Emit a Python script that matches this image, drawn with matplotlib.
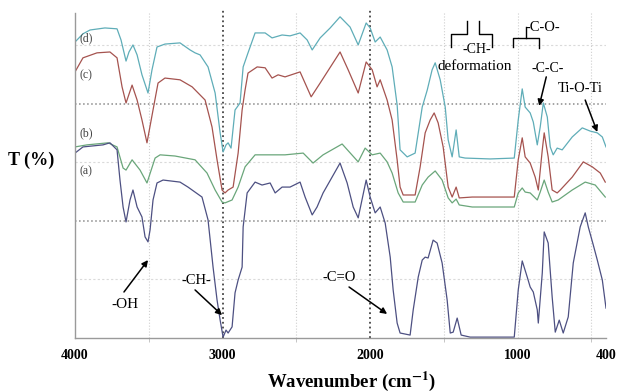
import matplotlib
matplotlib.use('Agg')
import matplotlib.pyplot as plt

# ── spectra (wavenumber cm-1, T in grid units: 20 per gridline) ──
wn_d = [4000, 3946, 3898, 3797, 3715, 3688, 3654, 3634, 3607, 3579, 3546, 3505, 3478, 3444,
        3390, 3288, 3220, 3186, 3152, 3098, 3050, 3016, 2996, 2976, 2962, 2942, 2915, 2881,
        2860, 2827, 2779, 2711, 2664, 2596, 2542, 2474, 2426, 2392, 2338, 2270, 2203, 2135,
        2080, 2026, 1999, 1965, 1931, 1884, 1850, 1816, 1796, 1748, 1694, 1646, 1612, 1579,
        1558, 1524, 1490, 1470, 1443, 1416, 1395, 1355, 1185, 1022, 995, 968, 948, 914, 893,
        866, 846, 825, 798, 778, 758, 731, 697, 629, 561, 507, 459, 425, 400]
t_d = [101.0, 103.8, 105.1, 105.8, 105.5, 101.7, 94.5, 97.6, 100.0, 96.6, 89.8, 83.6, 91.5, 99.3,
       100.3, 100.7, 98.3, 97.3, 96.6, 92.5, 83.6, 70.0, 63.5, 65.9, 66.6, 64.8, 77.8, 80.2,
       92.5, 97.3, 104.1, 104.1, 102.4, 103.4, 103.1, 104.1, 101.7, 98.3, 102.4, 105.8, 109.6, 106.1,
       100.0, 107.5, 105.8, 101.0, 102.7, 98.3, 92.5, 79.5, 64.2, 61.8, 63.1, 78.8, 84.6, 91.5,
       93.9, 88.1, 78.8, 67.6, 61.8, 71.0, 61.8, 61.4, 61.1, 61.4, 74.4, 85.0, 78.8, 76.8, 73.7,
       65.9, 72.0, 80.2, 75.4, 65.2, 62.5, 64.8, 64.2, 68.6, 71.7, 70.6, 70.0, 68.6, 65.2]

wn_c = [4000, 3946, 3851, 3763, 3715, 3681, 3654, 3613, 3579, 3546, 3512, 3471, 3437, 3390,
        3288, 3206, 3118, 3071, 3037, 3003, 2983, 2962, 2928, 2894, 2867, 2847, 2827, 2765,
        2711, 2664, 2623, 2576, 2474, 2399, 2338, 2203, 2148, 2080, 2026, 1985, 1952, 1931,
        1884, 1850, 1816, 1796, 1775, 1694, 1660, 1626, 1592, 1565, 1538, 1504, 1470, 1443,
        1416, 1395, 1307, 1022, 995, 968, 948, 914, 880, 859, 832, 819, 792, 765, 731, 710,
        629, 554, 493, 439, 405]
t_c = [90.8, 95.6, 97.3, 97.6, 95.6, 85.7, 80.2, 86.3, 81.2, 74.4, 66.6, 77.8, 87.0, 88.7,
       88.1, 85.7, 81.2, 72.0, 60.8, 50.5, 49.5, 50.5, 51.5, 63.1, 77.8, 84.6, 90.4, 92.5,
       92.2, 88.7, 89.8, 89.1, 90.8, 82.3, 87.0, 97.6, 91.5, 83.6, 94.2, 91.5, 85.7, 88.1,
       81.2, 74.4, 60.8, 51.5, 48.8, 48.8, 58.4, 70.0, 74.4, 76.8, 73.4, 65.2, 51.5, 48.1,
       51.5, 47.8, 48.1, 48.1, 60.8, 68.3, 61.8, 59.7, 54.9, 50.5, 64.2, 70.0, 61.8, 50.5, 49.5, 50.5,
       54.9, 60.1, 58.4, 56.3, 53.2]

wn_b = [4000, 3919, 3776, 3715, 3674, 3654, 3613, 3559, 3512, 3457, 3423, 3322, 3186, 3105,
        3050, 3003, 2983, 2935, 2894, 2847, 2779, 2576, 2453, 2386, 2318, 2189, 2080, 2033,
        1985, 1931, 1884, 1850, 1809, 1775, 1694, 1646, 1606, 1558, 1511, 1470, 1443, 1416,
        1395, 1307, 1022, 995, 968, 948, 914, 866, 846, 819, 792, 765, 724, 629, 541, 473, 405]
t_b = [65.2, 65.9, 66.6, 65.2, 58.0, 57.3, 60.8, 57.3, 52.9, 61.4, 62.5, 62.1, 60.8, 56.3,
       50.5, 46.4, 46.1, 47.1, 51.5, 58.4, 62.5, 62.5, 63.1, 59.7, 62.5, 66.2, 60.1, 64.8,
       62.5, 63.1, 60.1, 56.3, 49.5, 46.4, 46.4, 52.2, 54.9, 57.0, 53.9, 47.8, 46.1, 47.4,
       45.4, 44.7, 44.7, 49.5, 51.2, 49.8, 49.5, 47.1, 49.8, 53.9, 49.8, 46.4, 47.1, 50.5, 53.2, 52.2, 48.1]

wn_a = [4000, 3946, 3810, 3763, 3715, 3695, 3674, 3654, 3627, 3607, 3579, 3546, 3525, 3505,
        3491, 3471, 3444, 3403, 3288, 3234, 3139, 3098, 3064, 3037, 3016, 2996, 2976, 2962,
        2935, 2915, 2894, 2867, 2860, 2833, 2779, 2732, 2677, 2643, 2596, 2542, 2474, 2440,
        2392, 2359, 2318, 2203, 2155, 2114, 2080, 2026, 1999, 1965, 1931, 1897, 1863, 1843,
        1816, 1796, 1728, 1707, 1673, 1646, 1626, 1606, 1572, 1545, 1511, 1477, 1456, 1436,
        1409, 1382, 1321, 1022, 995, 968, 934, 914, 893, 866, 859, 832, 819, 792, 765, 744,
        717, 690, 656, 622, 575, 541, 520, 486, 459, 425, 400]
t_a = [63.1, 65.2, 65.9, 66.6, 64.2, 53.9, 44.7, 39.6, 47.1, 50.5, 44.7, 41.3, 34.5, 32.8,
       36.9, 47.1, 52.9, 53.9, 53.2, 51.5, 48.1, 40.3, 24.2, 13.0, 6.1, 0.3, 2.7, 1.7,
       3.8, 15.4, 19.8, 24.2, 37.9, 49.5, 53.2, 52.2, 52.9, 49.5, 51.5, 51.5, 53.2, 48.1,
       42.0, 44.7, 49.5, 59.7, 52.9, 44.7, 41.0, 53.9, 48.1, 42.7, 44.7, 39.2, 27.6, 16.4,
       5.1, 1.7, 1.0, 9.6, 20.8, 26.6, 27.6, 27.3, 33.4, 32.4, 25.6, 13.0, 1.7, 2.0,
       6.8, 1.0, 0.3, 0.3, 16.4, 26.3, 20.8, 17.4, 15.7, 9.6, 5.1, 22.2, 36.2, 32.4, 14.0, 2.0,
       6.1, 1.7, 7.2, 25.6, 37.9, 42.7, 37.9, 31.7, 26.6, 19.8, 10.2]

tick_pos = [4000, 3000, 2000, 1000, 400]
tick_lab = ['4000', '3000', '2000', '1000', '400']

SERIF = ['Liberation Serif', 'DejaVu Serif']
plt.rcParams['font.family'] = SERIF
plt.rcParams['mathtext.fontset'] = 'stix'

fig = plt.figure(figsize=(6.18, 3.92), dpi=100)
ax = fig.add_axes([75 / 618, 54 / 392, 531 / 618, 325 / 392])
ax.set_xlim(4000, 400)
ax.set_ylim(0, 110.9)

# grid: dark dotted at 3000/2000 and T=40/80, light elsewhere
for w in (3500, 2500, 1500, 1000, 500):
    ax.axvline(w, color='#cfcfcf', ls=':', lw=0.8, zorder=0)
for w in (3000, 2000):
    ax.axvline(w, ymax=1.01, color='#444444', ls=':', lw=1.3, zorder=0, clip_on=False)
for t in (20, 60, 100):
    ax.axhline(t, color='#dadada', ls=(0, (2, 2)), lw=0.8, zorder=0)
for t in (40, 80):
    ax.axhline(t, color='#8a8a8a', ls=':', lw=1.1, zorder=0)

# spectra
ax.plot(wn_d, t_d, color='#5fadb8', lw=0.9)
ax.plot(wn_c, t_c, color='#a5534f', lw=0.9)
ax.plot(wn_b, t_b, color='#6aa67a', lw=0.9)
ax.plot(wn_a, t_a, color='#4d5082', lw=0.9)

# curve labels
for lab, t in [('(d)', 102.4), ('(c)', 89.8), ('(b)', 70.0), ('(a)', 57.0)]:
    ax.text(3925, t, lab, fontsize=8.5, color='#444444', ha='center', va='center')

# band assignments
arrow = dict(arrowstyle='-|>', color='black', lw=1.1, mutation_scale=9,
             shrinkA=0, shrinkB=0)
ax.text(3661, 11.6, '-OH', fontsize=11, ha='center', va='center')
ax.annotate('', xy=(3505, 26.6), xytext=(3668, 15.7), arrowprops=arrow)
ax.text(3179, 19.5, '-CH-', fontsize=10.5, ha='center', va='center')
ax.annotate('', xy=(3003, 7.8), xytext=(3186, 16.4), arrowprops=arrow)
ax.text(2209, 20.8, '-C=O', fontsize=10.5, ha='center', va='center')
ax.annotate('', xy=(1884, 8.2), xytext=(2142, 17.4), arrowprops=arrow)
ax.text(792, 91.8, '-C-C-', fontsize=10, ha='center', va='center')
ax.annotate('', xy=(853, 79.2), xytext=(805, 89.1), arrowprops=arrow)
ax.text(575, 85.0, 'Ti-O-Ti', fontsize=10.5, ha='center', va='center')
ax.annotate('', xy=(459, 70.3), xytext=(541, 81.2), arrowprops=arrow)

# -CH- deformation bracket
ax.plot([1450, 1450, 1341, 1341], [99.3, 103.8, 103.8, 108.2], color='black', lw=1, clip_on=False)
ax.plot([1260, 1260, 1171, 1171], [108.2, 103.8, 103.8, 99.3], color='black', lw=1, clip_on=False)
ax.text(1273, 98.3, '-CH-', fontsize=10, ha='center', va='center')
ax.text(1290, 92.8, 'deformation', fontsize=11, ha='center', va='center')

# -C-O- bracket
ax.plot([1029, 1029, 853, 853], [99.3, 102.4, 102.4, 99.0], color='black', lw=1, clip_on=False)
ax.plot([941, 941], [102.4, 106.1], color='black', lw=1, clip_on=False)
ax.text(944, 106.1, '-C-O-', fontsize=10.5, ha='left', va='center')

# axes styling
for s in ('top', 'right'):
    ax.spines[s].set_visible(False)
for s in ('left', 'bottom'):
    ax.spines[s].set_color('#9a9a9a')
    ax.spines[s].set_linewidth(1.0)
ax.set_yticks([])
ax.set_xticks(tick_pos)
ax.set_xticklabels(tick_lab, fontsize=10, fontweight='bold')
ax.tick_params(axis='x', length=0, pad=8)
ax.set_xticks([3500, 2500, 1500, 500], minor=True)
ax.tick_params(axis='x', which='minor', length=3, color='#bbbbbb')

fig.text(8 / 618, 1 - 160 / 392, 'T (%)', fontsize=13, fontweight='bold',
         ha='left', va='center')
fig.text(352 / 618, 1 - 381 / 392, r'Wavenumber (cm$^{\mathbf{-1}}$)', fontsize=13.5,
         fontweight='bold', ha='center', va='center')

fig.savefig('out.png', dpi=100)
